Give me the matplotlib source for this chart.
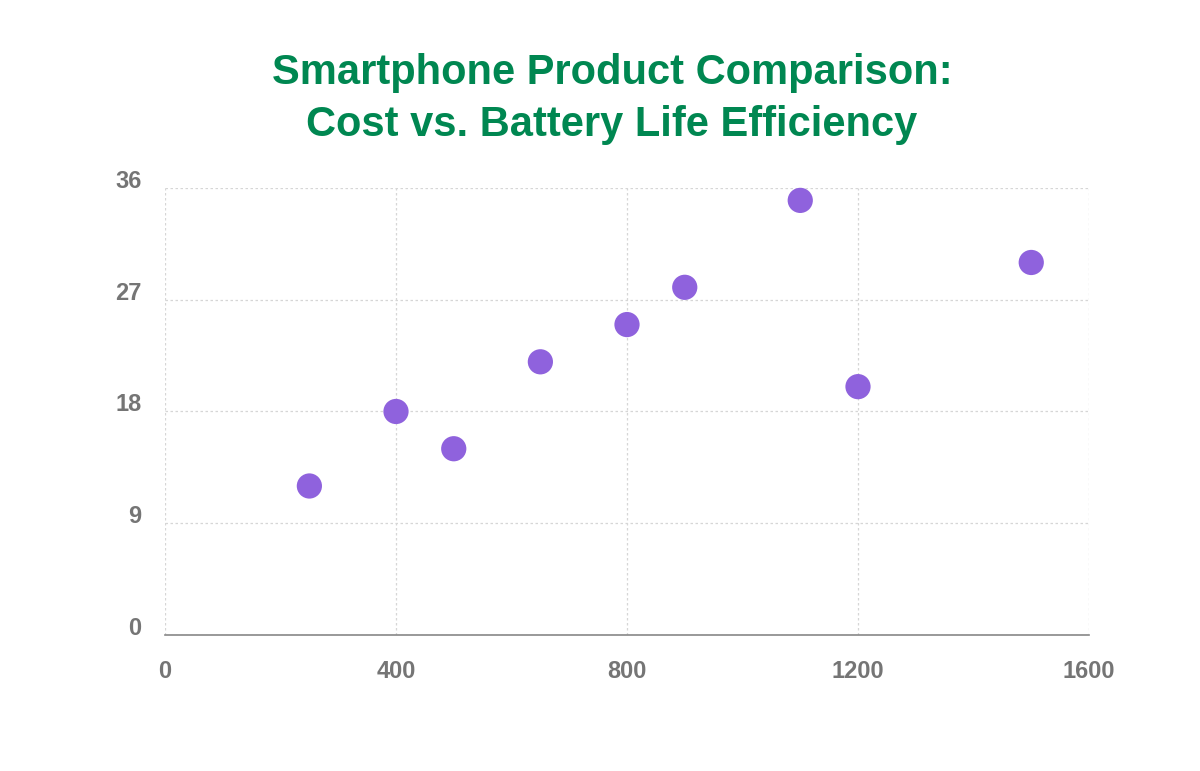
import matplotlib
matplotlib.use("Agg")
import matplotlib.pyplot as plt

price = [250, 400, 500, 650, 800, 900, 1100, 1200, 1500]
battery_hours = [12, 18, 15, 22, 25, 28, 35, 20, 30]
x_ticks = [0, 400, 800, 1200, 1600]
y_ticks = [0, 9, 18, 27, 36]
title_lines = ['Smartphone Product Comparison:', 'Cost vs. Battery Life Efficiency']

plt.rcParams['font.family'] = ['Liberation Sans', 'DejaVu Sans']

fig = plt.figure(figsize=(12, 7.71), dpi=100)
ax = fig.add_axes([0.1375, 0.1764, 0.77, 0.5798])

ax.scatter(price, battery_hours, s=330, color='#8F62DD', edgecolors='none', zorder=3, clip_on=False)

ax.set_xlim(0, 1600)
ax.set_ylim(0, 36)
ax.set_xticks(x_ticks)
ax.set_yticks(y_ticks)
ax.grid(True, color='#d6d6d6', linestyle=(0, (2, 2)), linewidth=0.9)
ax.set_axisbelow(True)
for s in ['top', 'right', 'left']:
    ax.spines[s].set_visible(False)
ax.spines['bottom'].set_color('#888888')
ax.spines['bottom'].set_linewidth(1.2)
ax.tick_params(length=0, colors='#757575', labelsize=17)
ax.tick_params(axis='x', pad=18)
ax.tick_params(axis='y', pad=17)
for lab in ax.get_xticklabels() + ax.get_yticklabels():
    lab.set_fontweight('bold')
for lab in ax.get_yticklabels():
    lab.set_verticalalignment('baseline')

baselines = [1 - 84 / 771, 1 - 136 / 771]
for line, yb in zip(title_lines, baselines):
    fig.text(0.51, yb, line, ha='center', va='baseline', fontsize=30,
             fontweight='bold', color='#008751')

fig.savefig('out.png', dpi=100, facecolor='white')
